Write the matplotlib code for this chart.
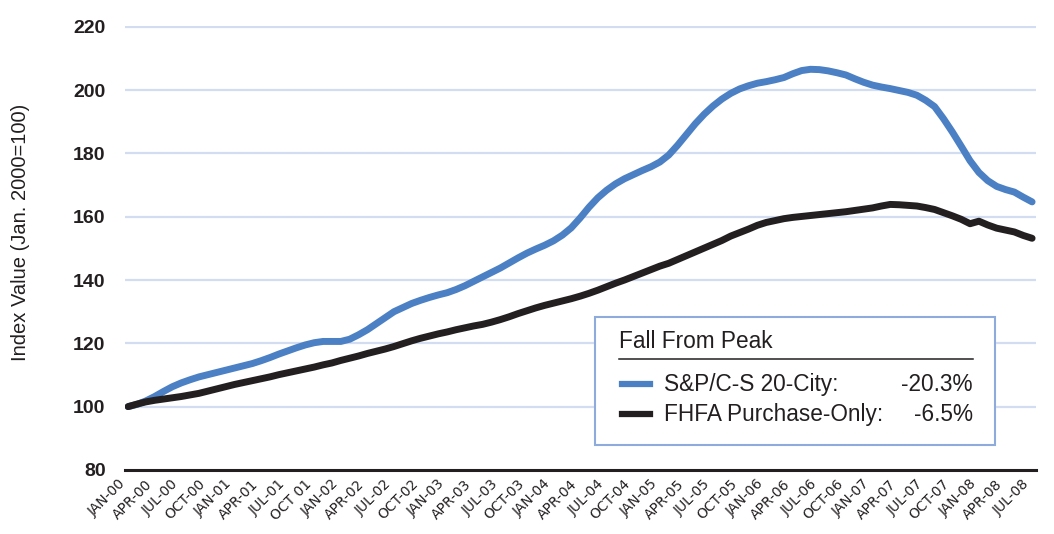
import matplotlib
matplotlib.use("Agg")
from matplotlib import pyplot as plt
from matplotlib.patches import Rectangle
from matplotlib.lines import Line2D

# monthly index values, Jan 2000 .. Jul 2008 (Jan. 2000 = 100)
sp_cs_20 = [
    100.0, 100.7, 101.8, 103.2, 104.8, 106.3, 107.5, 108.5, 109.4, 110.1, 110.8, 111.5,
    112.2, 112.9, 113.6, 114.5, 115.5, 116.6, 117.6, 118.6, 119.5, 120.2, 120.6, 120.6,
    120.6, 121.3, 122.7, 124.3, 126.2, 128.1, 130.0, 131.3, 132.6, 133.6, 134.5, 135.3,
    136.0, 137.0, 138.2, 139.6, 141.0, 142.4, 143.8, 145.4, 147.0, 148.5, 149.8, 151.0,
    152.4, 154.2, 156.5, 159.6, 163.0, 166.0, 168.4, 170.4, 172.0, 173.3, 174.6, 175.8,
    177.3, 179.5, 182.6, 186.0, 189.4, 192.4, 195.0, 197.2, 199.0, 200.4, 201.4, 202.2,
    202.7, 203.3, 204.0, 205.2, 206.2, 206.6, 206.5, 206.1, 205.5, 204.8, 203.6, 202.5,
    201.6, 201.0, 200.5, 199.9, 199.3, 198.4, 196.8, 194.8, 191.0, 186.8, 182.3, 177.7,
    174.0, 171.4, 169.6, 168.6, 167.8, 166.2, 164.7,
]
fhfa_po = [
    100.0, 100.8, 101.5, 102.0, 102.4, 102.8, 103.2, 103.7, 104.2, 104.9, 105.6, 106.3,
    107.0, 107.6, 108.2, 108.8, 109.4, 110.1, 110.7, 111.3, 111.9, 112.5, 113.2, 113.8,
    114.6, 115.3, 116.0, 116.8, 117.5, 118.2, 119.0, 119.9, 120.8, 121.6, 122.3, 123.0,
    123.6, 124.3, 124.9, 125.5, 126.0, 126.7, 127.5, 128.4, 129.4, 130.3, 131.2, 132.0,
    132.7, 133.4, 134.1, 134.9, 135.8, 136.8, 137.9, 139.0, 140.0, 141.1, 142.2, 143.3,
    144.4, 145.3, 146.5, 147.7, 148.9, 150.1, 151.3, 152.5, 153.9, 155.0, 156.1, 157.3,
    158.2, 158.8, 159.4, 159.8, 160.1, 160.4, 160.7, 161.0, 161.3, 161.6, 162.0, 162.4,
    162.8, 163.4, 163.9, 163.8, 163.6, 163.4, 162.9, 162.3, 161.3, 160.3, 159.2, 157.8,
    158.6, 157.4, 156.4, 155.8, 155.2, 154.1, 153.2,
]
tick_labels = [
    'JAN-00', 'APR-00', 'JUL-00', 'OCT-00', 'JAN-01', 'APR-01', 'JUL-01', 'OCT 01',
    'JAN-02', 'APR-02', 'JUL-02', 'OCT-02', 'JAN-03', 'APR-03', 'JUL-03', 'OCT-03',
    'JAN-04', 'APR-04', 'JUL-04', 'OCT-04', 'JAN-05', 'APR-05', 'JUL-05', 'OCT-05',
    'JAN-06', 'APR-06', 'JUL-06', 'OCT-06', 'JAN-07', 'APR-07', 'JUL-07', 'OCT-07',
    'JAN-08', 'APR-08', 'JUL-08',
]
legend_names = ['S&P/C-S 20-City:', 'FHFA Purchase-Only:']
legend_falls = ['-20.3%', '-6.5%']

BLUE = '#4c80c4'
DARK = '#231f20'
GRID = '#d3ddf1'

plt.rcParams['font.family'] = ['Liberation Sans', 'DejaVu Sans']

fig = plt.figure(figsize=(10.54, 5.34), dpi=100)
ax = fig.add_axes([0.1186, 0.12, 0.8644, 0.832])

months = list(range(len(sp_cs_20)))
ax.plot(months, sp_cs_20, color=BLUE, lw=5.0, solid_capstyle='round', solid_joinstyle='round', zorder=3)
ax.plot(months, fhfa_po, color=DARK, lw=5.0, solid_capstyle='round', solid_joinstyle='round', zorder=4)

ax.set_xlim(-0.35, 102.45)
ax.set_ylim(80, 220.4)
ax.set_yticks(range(80, 221, 20))
ax.set_yticklabels([str(v) for v in range(80, 221, 20)], fontsize=14, fontweight='bold', color=DARK)
for v in range(100, 221, 20):
    ax.axhline(v, color=GRID, lw=1.6, zorder=1)

ax.set_xticks(range(0, len(sp_cs_20), 3))
ax.set_xticklabels(tick_labels, rotation=45, ha='right', va='top', color=DARK)
for lab in ax.get_xticklabels():
    lab.set_fontfamily(['DejaVu Sans'])
    lab.set_fontsize(10)
ax.tick_params(axis='both', length=0)
ax.tick_params(axis='y', pad=14)
ax.tick_params(axis='x', pad=5)

for s in ['top', 'right', 'left']:
    ax.spines[s].set_visible(False)
ax.spines['bottom'].set_color(DARK)
ax.spines['bottom'].set_linewidth(2.2)

fig.text(0.019, 0.565, 'Index Value (Jan. 2000=100)', rotation=90, fontsize=14.5,
         color=DARK, ha='center', va='center')

# "Fall From Peak" box
W, H = 1054, 534
def fx(px):
    return px / W
def fy(py):
    return 1 - py / H

fig.patches.append(Rectangle((fx(595), fy(445)), fx(995) - fx(595), fy(317) - fy(445),
                             transform=fig.transFigure, fill=True, facecolor='white',
                             edgecolor='#8fabdc', lw=1.5, zorder=5))
fig.text(fx(619), fy(348), 'Fall From Peak', fontsize=16.3, color=DARK, va='baseline', zorder=6)
fig.lines.append(Line2D([fx(619), fx(973)], [fy(358.5), fy(358.5)], transform=fig.transFigure,
                        color=DARK, lw=1.1, zorder=6))
for i, (name, fall, col) in enumerate(zip(legend_names, legend_falls, [BLUE, DARK])):
    yb = 391 + i * 30
    fig.lines.append(Line2D([fx(622), fx(650)], [fy(yb - 7), fy(yb - 7)], transform=fig.transFigure,
                            color=col, lw=4.5, zorder=6))
    fig.text(fx(664), fy(yb), name, fontsize=16.3, color=DARK, va='baseline', zorder=6)
    fig.text(fx(973), fy(yb), fall, fontsize=16.3, color=DARK, va='baseline', ha='right', zorder=6)

fig.savefig('out.png', dpi=100)
